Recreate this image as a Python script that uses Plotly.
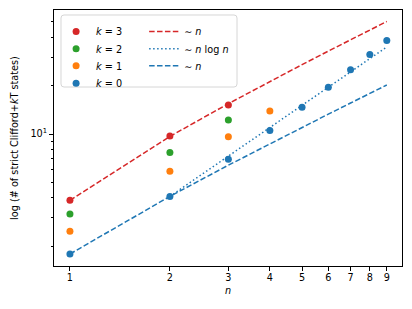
import plotly.graph_objects as go

# ---- data (natural log of counts) ----
n_k3 = [1, 2, 3]
v_k3 = [3.87, 9.72, 15.18]
n_k2 = [1, 2, 3]
v_k2 = [3.18, 7.69, 12.23]
n_k1 = [1, 2, 3, 4]
v_k1 = [2.48, 5.87, 9.63, 13.92]
n_k0 = [1, 2, 3, 4, 5, 6, 7, 8, 9]
v_k0 = [1.79, 4.09, 6.98, 10.51, 14.70, 19.57, 25.12, 31.36, 38.30]

# guide curves
n_guide = [1, 2, 3, 4, 5, 6, 7, 8, 9]
v_guide_red = [3.86, 9.67, 15.47, 21.28, 27.08, 32.89, 38.69, 44.50, 50.30]
v_guide_blue = [1.79, 4.09, 6.40, 8.70, 11.00, 13.31, 15.61, 17.91, 20.22]
n_nlogn = [2, 3, 4, 5, 6, 7, 8, 9]
v_nlogn = [4.09, 7.29, 11.06, 15.25, 19.78, 24.59, 29.64, 34.90]

x_ticks = [1, 2, 3, 4, 5, 6, 7, 8, 9]
y_minor = [2, 3, 4, 5, 6, 7, 8, 9, 20, 30, 40, 50]

RED = "#d62728"
GREEN = "#2ca02c"
ORANGE = "#ff7f0e"
BLUE = "#1f77b4"
FONT = "DejaVu Sans"
FS = 9.7

# legend row centres (paper y) and column anchors (paper x)
row_y = [0.916, 0.8484, 0.782, 0.7141]
col1_x = 0.006
col2_x = 0.259

fig = go.Figure()
legend_layouts = {}
leg_idx = [0]


def new_legend(x, y):
    leg_idx[0] += 1
    name = "legend" if leg_idx[0] == 1 else f"legend{leg_idx[0]}"
    legend_layouts[name] = dict(x=x, y=y, xanchor="left", yanchor="middle",
                                bgcolor="rgba(0,0,0,0)", borderwidth=0,
                                font=dict(family=FONT, size=FS, color="black"))
    return name


# guide lines (column 2)
guides = [(n_guide, v_guide_red, RED, "5.5px,2.4px", "∼ <i>n</i>"),
          (n_nlogn, v_nlogn, BLUE, "1.5px,2.5px", "∼ <i>n</i> log <i>n</i>"),
          (n_guide, v_guide_blue, BLUE, "5.5px,2.4px", "∼ <i>n</i>")]
for i, (nn, vv, c, d, lab) in enumerate(guides):
    fig.add_trace(go.Scatter(x=nn, y=vv, mode="lines",
                             line=dict(color=c, width=1.5, dash=d),
                             name=lab, legend=new_legend(col2_x, row_y[i])))

# data points (column 1)
points = [(n_k3, v_k3, RED, "<i>k</i> = 3"),
          (n_k2, v_k2, GREEN, "<i>k</i> = 2"),
          (n_k1, v_k1, ORANGE, "<i>k</i> = 1"),
          (n_k0, v_k0, BLUE, "<i>k</i> = 0")]
for i, (nn, vv, c, lab) in enumerate(points):
    fig.add_trace(go.Scatter(x=nn, y=vv, mode="markers",
                             marker=dict(color=c, size=7, line=dict(width=0)),
                             name=lab, legend=new_legend(col1_x, row_y[i])))

# legend frame (rounded)
x0, x1, y0, y1 = 0.0201, 0.5259, 0.6992, 0.9805
rx, ry = 0.0086, 0.0117
path = (f"M{x0+rx},{y0} L{x1-rx},{y0} Q{x1},{y0} {x1},{y0+ry} "
        f"L{x1},{y1-ry} Q{x1},{y1} {x1-rx},{y1} L{x0+rx},{y1} "
        f"Q{x0},{y1} {x0},{y1-ry} L{x0},{y0+ry} Q{x0},{y0} {x0+rx},{y0} Z")
fig.add_shape(type="path", path=path, xref="paper", yref="paper",
              line=dict(color="#d6d6d6", width=1), fillcolor="white",
              layer="below")

axis_common = dict(showline=True, linecolor="black", linewidth=1, mirror=True,
                   ticks="outside", ticklen=4, tickwidth=1, tickcolor="black",
                   showgrid=False, zeroline=False, automargin=False,
                   tickfont=dict(family=FONT, size=FS, color="black"))

fig.update_layout(
    width=412, height=309,
    margin=dict(l=54, r=10, t=10, b=43, autoexpand=False),
    paper_bgcolor="white", plot_bgcolor="white",
    font=dict(family=FONT, size=FS, color="black"),
    xaxis=dict(type="log", range=[-0.048, 1.0], tickmode="array",
               tickvals=x_ticks, ticktext=[str(t) for t in x_ticks],
               ticklabelstandoff=-2,
               title=dict(text="<i>n</i>", font=dict(family=FONT, size=FS), standoff=5),
               **axis_common),
    yaxis=dict(type="log", range=[0.178, 1.773], tickmode="array",
               tickvals=[10], ticktext=["10<sup>1</sup>"],
               minor=dict(tickmode="array", tickvals=y_minor, ticks="outside",
                          ticklen=2, tickwidth=0.8, tickcolor="black", showgrid=False),
               title=dict(text="log (# of strict Clifford+<i>k</i>T states)",
                          font=dict(family=FONT, size=FS), standoff=10),
               **axis_common),
    showlegend=True,
    **legend_layouts,
)

fig.write_html("out.html",
               config={"displayModeBar": False},
               post_script="document.body.style.margin='0';document.body.style.padding='0';")
